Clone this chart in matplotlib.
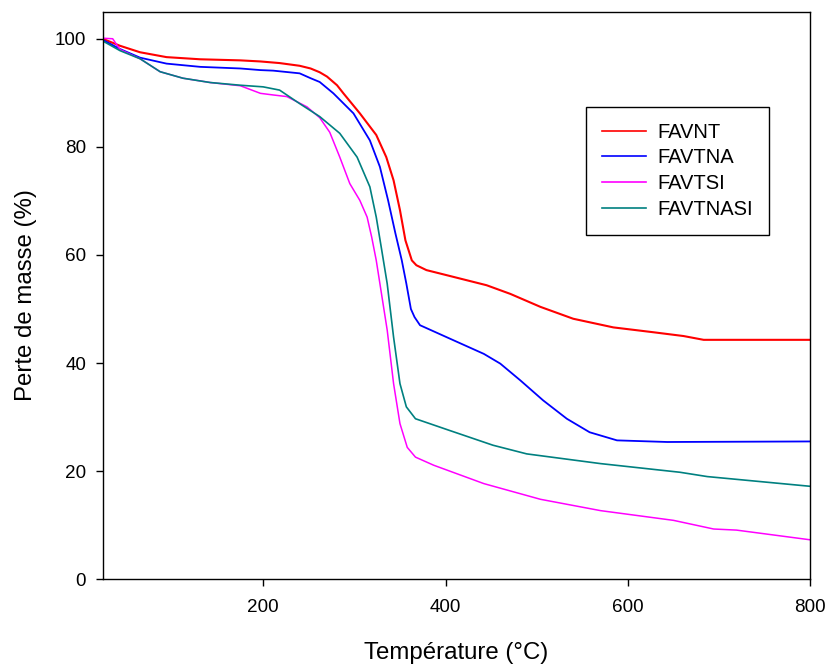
import matplotlib
matplotlib.use("Agg")
import matplotlib.pyplot as plt

plt.rcParams['font.family'] = ['Liberation Sans', 'DejaVu Sans']

# courbes ATG
t_favnt = [24, 43, 65, 94, 131, 175, 197, 218, 240, 252, 262, 270, 281, 288, 306, 324,
           335, 343, 350, 356, 363, 368, 379, 405, 445, 471, 504, 540, 584, 628, 661,
           683, 720, 800]
m_favnt = [100.0, 98.7, 97.5, 96.6, 96.2, 96.0, 95.8, 95.5, 95.0, 94.5, 93.8, 93.0, 91.4,
           89.9, 86.2, 82.2, 78.1, 73.8, 68.3, 62.7, 59.0, 58.1, 57.2, 56.1, 54.4, 52.8,
           50.4, 48.2, 46.6, 45.7, 45.0, 44.3, 44.3, 44.3]

t_favtna = [24, 43, 65, 94, 131, 175, 197, 211, 240, 252, 262, 277, 299, 317, 328, 337,
            345, 352, 357, 362, 366, 372, 376, 405, 442, 460, 482, 507, 533, 558, 588,
            643, 800]
m_favtna = [99.8, 98.1, 96.5, 95.4, 94.8, 94.5, 94.2, 94.1, 93.6, 92.7, 92.0, 89.9, 86.2,
            81.2, 76.3, 70.1, 64.0, 59.0, 54.7, 50.0, 48.5, 47.0, 46.7, 44.5, 41.7, 39.9,
            36.8, 33.1, 29.7, 27.2, 25.7, 25.4, 25.5]

t_favtsi = [24, 35, 43, 65, 87, 112, 142, 175, 197, 211, 226, 248, 262, 273, 284, 295,
            306, 314, 319, 324, 328, 336, 343, 350, 358, 367, 387, 442, 504, 570, 650,
            694, 719, 800]
m_favtsi = [100.1, 100.0, 98.0, 96.3, 93.9, 92.7, 91.9, 91.3, 89.9, 89.6, 89.3, 87.4,
            85.4, 82.7, 78.1, 73.2, 70.1, 67.0, 63.3, 59.0, 54.7, 46.1, 36.2, 28.8, 24.4,
            22.6, 21.1, 17.7, 14.8, 12.7, 10.9, 9.3, 9.1, 7.3]

t_favtnasi = [24, 43, 65, 87, 112, 142, 175, 200, 218, 240, 262, 284, 303, 317, 324, 330,
              336, 343, 350, 357, 367, 405, 452, 489, 570, 657, 687, 800]
m_favtnasi = [99.6, 97.8, 96.3, 93.9, 92.7, 91.9, 91.4, 91.1, 90.5, 88.0, 85.6, 82.5,
              78.1, 72.6, 67.0, 60.9, 54.7, 44.8, 36.2, 31.9, 29.7, 27.5, 24.8, 23.2,
              21.4, 19.8, 19.0, 17.2]

fig = plt.figure(figsize=(8.3, 6.66), dpi=100)
ax = fig.add_axes([0.1237, 0.1302, 0.8526, 0.8522])

ax.plot(t_favnt, m_favnt, color='red', lw=1.5, label='FAVNT')
ax.plot(t_favtna, m_favtna, color='blue', lw=1.3, label='FAVTNA')
ax.plot(t_favtsi, m_favtsi, color='magenta', lw=1.1, label='FAVTSI')
ax.plot(t_favtnasi, m_favtnasi, color='#008080', lw=1.2, label='FAVTNASI')

ax.set_xlim(24, 800)
ax.set_ylim(0, 105)
ax.set_xticks([200, 400, 600, 800])
ax.set_yticks([0, 20, 40, 60, 80, 100])
ax.tick_params(direction='out', length=5, width=1, labelsize=13.6, pad=7)
ax.tick_params(axis='x', pad=9)
for s in ax.spines.values():
    s.set_linewidth(1)

ax.set_xlabel('Température (°C)', fontsize=17.3, labelpad=19)
ax.set_ylabel('Perte de masse (%)', fontsize=17.3, labelpad=13)

leg = ax.legend(loc='upper left', bbox_to_anchor=(0.6826, 0.8326), fontsize=14.5,
                frameon=True, fancybox=False, edgecolor='black', framealpha=1,
                handlelength=2.2, handletextpad=0.55, labelspacing=0.33,
                borderpad=0.8, borderaxespad=0)
leg.get_frame().set_linewidth(1)
for line in leg.get_lines():
    line.set_linewidth(1.2)

fig.savefig('out.png', dpi=100)
